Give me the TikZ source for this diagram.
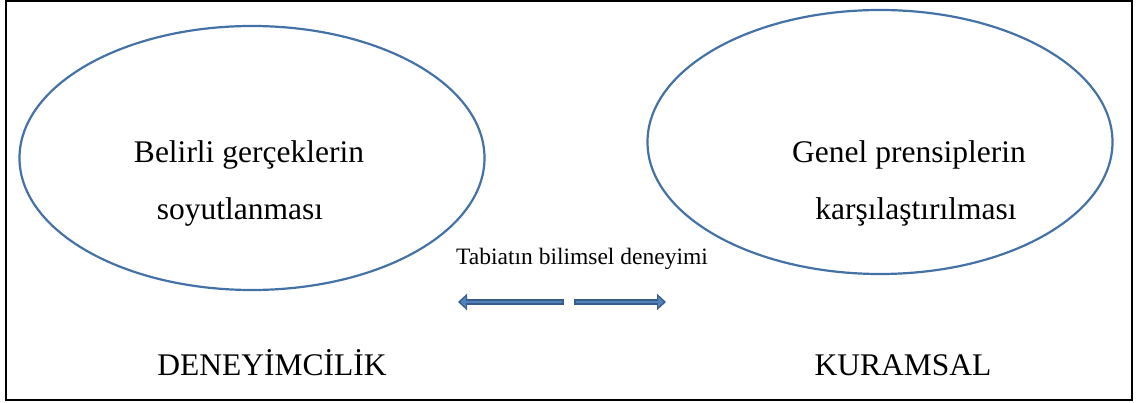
\documentclass[tikz,border=0pt]{standalone}
\usepackage{fontspec}
\setmainfont{Liberation Serif}
\usepackage{tikz}
\usetikzlibrary{shapes.geometric}
\usetikzlibrary{arrows.meta}
\definecolor{ellblue}{RGB}{68,114,166}
\definecolor{okkenar}{RGB}{56,93,138}
\definecolor{okdolgu}{RGB}{79,129,189}
\newcommand{\Buyuk}{\fontsize{31.5}{38}\selectfont}
\newcommand{\Kucuk}{\fontsize{23.5}{28}\selectfont}

\tikzset{
  oval/.style={ellipse, draw=ellblue, line width=2.2pt, inner sep=0pt,
    minimum width=465pt, minimum height=264pt},
  blockarrow/.style={line width=6pt, draw=okkenar,
    -{Triangle[length=9pt,width=16pt]},
    postaction={draw=okdolgu, line width=2.6pt, shorten >=2.5pt, shorten <=1.7pt,
      -{Triangle[length=5.5pt,width=11pt]}}}
}

\begin{document}
\begin{tikzpicture}[x=1pt,y=-1pt]
    \useasboundingbox (0,0) rectangle (1137,403);
    \draw[line width=2.5pt] (6,1) rectangle (1132,400);

    \draw node at (252,158)[name=deney,oval]{};
    \draw node at (880,142)[name=kuram,oval]{};

    \draw node at (249,163)[name=belirli,anchor=base]{\Buyuk Belirli gerçeklerin};
    \draw node at (240,220)[name=soyut,anchor=base]{\Buyuk soyutlanması};
    \draw node at (909,163)[name=genel,anchor=base]{\Buyuk Genel prensiplerin};
    \draw node at (916,220)[name=karsi,anchor=base]{\Buyuk karşılaştırılması};

    \draw node at (582,265)[name=tabiat,anchor=base]{\Kucuk Tabiatın bilimsel deneyimi};

    \draw node at (272,375)[name=deneyim,anchor=base]{\Buyuk DENEYİMCİLİK};
    \draw node at (903,375)[name=kuramsal,anchor=base]{\Buyuk KURAMSAL};

    \coordinate (solbas) at (564,302);
    \coordinate (solson) at (458,302);
    \coordinate (sagbas) at (574,302);
    \coordinate (sagson) at (666,302);
    \draw[blockarrow](solbas) -- (solson);
    \draw[blockarrow](sagbas) -- (sagson);
\end{tikzpicture}
\end{document}
